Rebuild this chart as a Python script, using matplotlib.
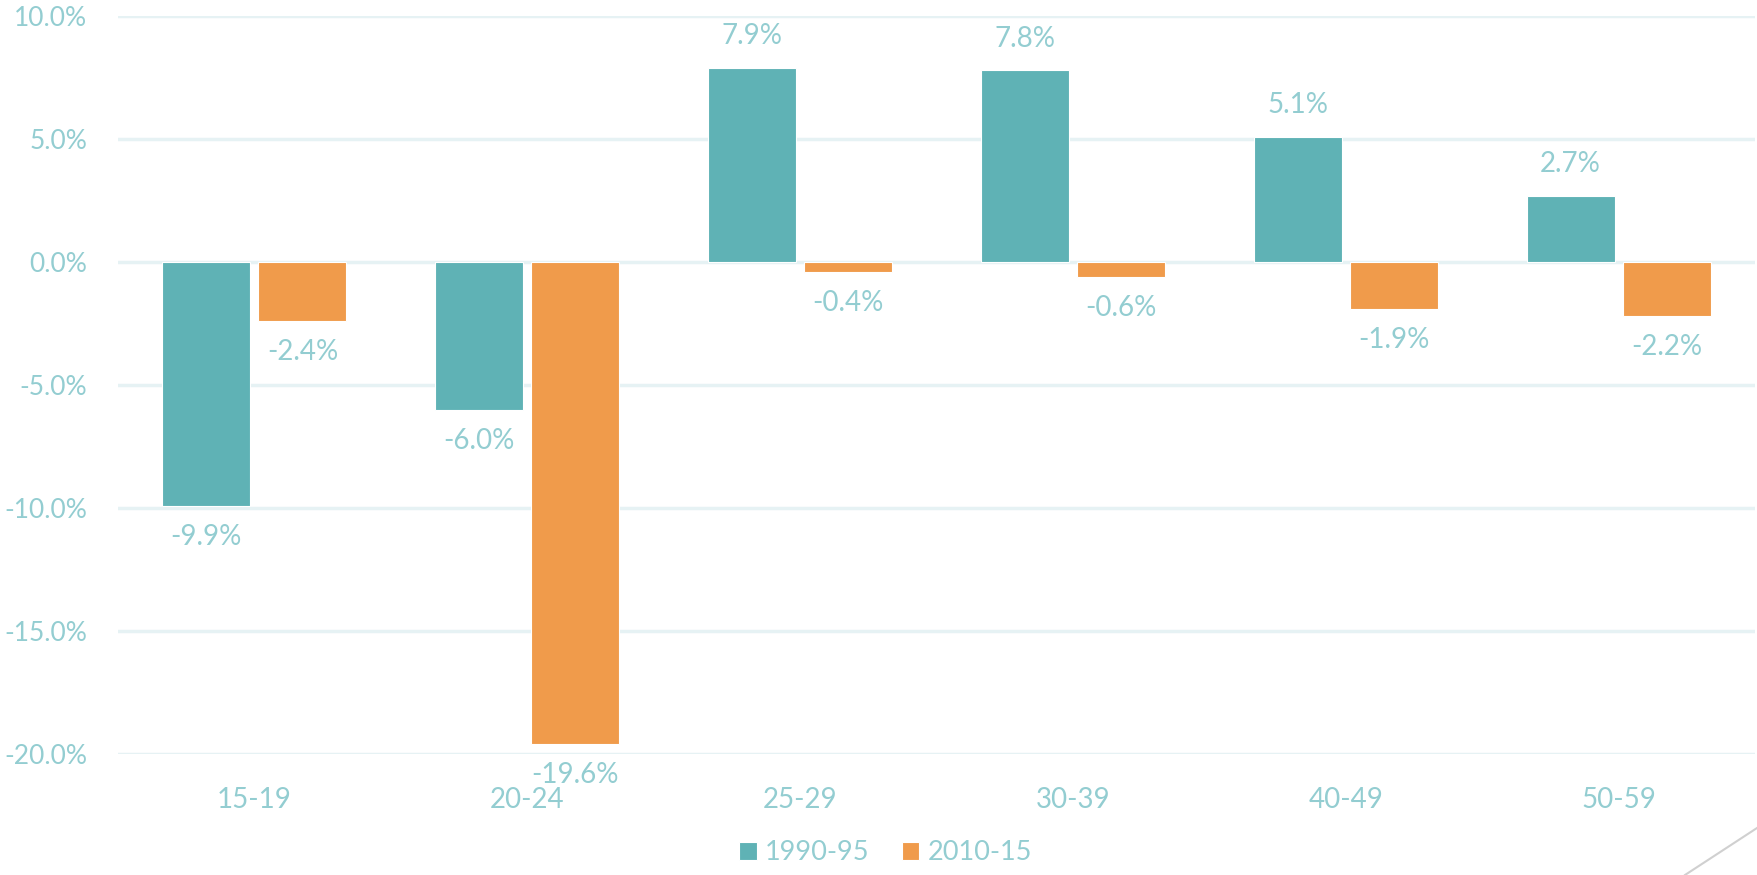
import matplotlib
matplotlib.use("Agg")
import matplotlib.pyplot as plt
from matplotlib.lines import Line2D
import numpy as np

categories = ["15-19", "20-24", "25-29", "30-39", "40-49", "50-59"]
series_names = ["1990-95", "2010-15"]
vals_1990 = [-9.9, -6.0, 7.9, 7.8, 5.1, 2.7]
vals_2010 = [-2.4, -19.6, -0.4, -0.6, -1.9, -2.2]
yticks = [-20, -15, -10, -5, 0, 5, 10]

teal = "#5FB2B5"
orange = "#F09B4B"
txt = "#93CDD1"
grid = "#E6F2F4"

plt.rcParams["font.family"] = ["Lato", "DejaVu Sans"]

fig = plt.figure(figsize=(17.57, 8.75), dpi=100)
ax = fig.add_axes([118/1757, 1-754/875, (1755-118)/1757, (754-16)/875])

x = np.arange(len(categories))
w = 0.3225
off = 0.176
b1 = ax.bar(x - off, vals_1990, w, color=teal, edgecolor="white", linewidth=0.8, zorder=3, label=series_names[0])
b2 = ax.bar(x + off, vals_2010, w, color=orange, edgecolor="white", linewidth=0.8, zorder=3, label=series_names[1])

for bars, vals in ((b1, vals_1990), (b2, vals_2010)):
    for r, v in zip(bars, vals):
        cx = r.get_x() + r.get_width()/2
        ax.annotate(f"{v:.1f}%", (cx, v), xytext=(0, 22.5 if v >= 0 else -22.5),
                    textcoords="offset points", ha="center", va="center",
                    color=txt, fontsize=20, zorder=4)

ax.set_xlim(-0.5, len(categories) - 0.5)
ax.set_ylim(-20, 10)
ax.set_yticks(yticks)
ax.set_yticklabels([f"{t:.1f}%" for t in yticks])
ax.set_xticks(x)
ax.set_xticklabels(categories)
ax.tick_params(axis="both", length=0, colors=txt)
ax.tick_params(axis="x", pad=24, labelsize=20)
ax.tick_params(axis="y", pad=22, labelsize=19)
ax.grid(axis="y", color=grid, linewidth=2.5, zorder=0)
ax.set_axisbelow(True)
for s in ax.spines.values():
    s.set_visible(False)

leg = fig.legend(handles=[b1, b2], labels=series_names, loc="center",
                 bbox_to_anchor=(0.504, 1-853/875), ncol=2, frameon=False,
                 fontsize=19.5, handlelength=0.65, handleheight=0.65,
                 handletextpad=0.3, columnspacing=1.2)
for t in leg.get_texts():
    t.set_color(txt)

fig.add_artist(Line2D([1685/1757, 1.0], [0, 1-828/875], transform=fig.transFigure,
                      color="#D0D0D0", linewidth=1.5))

fig.savefig("out.png", dpi=100)
